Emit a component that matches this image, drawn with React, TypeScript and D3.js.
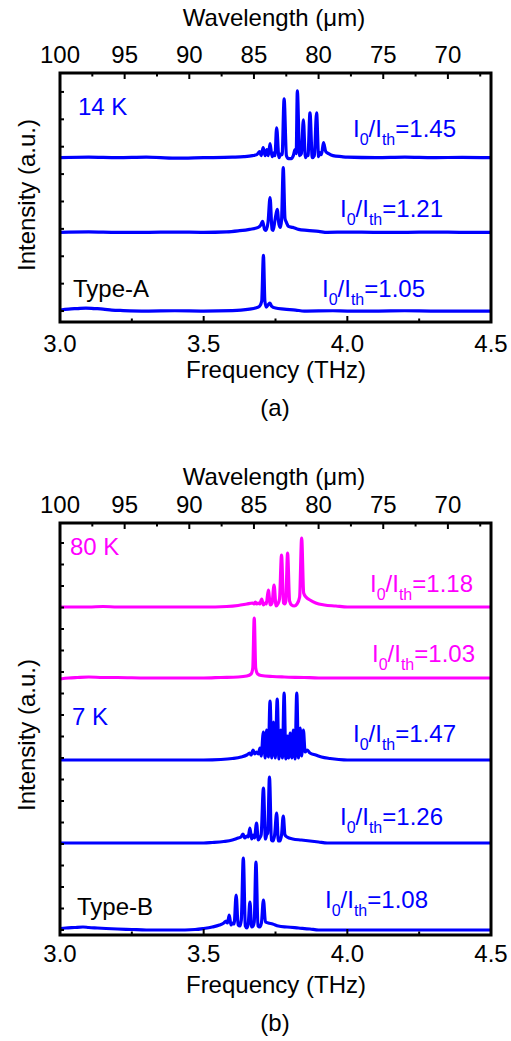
import React from 'react';
import * as d3 from 'd3';

type Pt = [number, number];

// ---- axis ticks ----
const freqTicks = [3.0, 3.5, 4.0, 4.5];
const freqMinor = [3.25, 3.75, 4.25];
const wlTicks = [100, 95, 90, 85, 80, 75, 70];
const wlMinor = [97.5, 92.5, 87.5, 82.5, 77.5, 72.5, 67.5];

// ---- panel (a): Type-A, 14 K ----
const traceA145: Pt[] = [[3.0,0],[3.1,0.5],[3.2,0],[3.3,0.5],[3.4,-0.5],[3.5,0],[3.6,0.5],[3.64,1],[3.67,2],[3.685,3],[3.695,6],[3.7,2],[3.707,10],[3.714,2],[3.72,8],[3.725,2],[3.731,14],[3.738,1],[3.745,5],[3.748,2],[3.754,30],[3.762,0],[3.77,4],[3.773,3],[3.78,59],[3.788,2],[3.795,-1],[3.805,-1],[3.812,2],[3.818,8],[3.822,4],[3.826,67],[3.834,2],[3.84,4],[3.847,38],[3.854,0],[3.86,3],[3.863,2],[3.87,45],[3.878,0],[3.885,2],[3.893,45],[3.9,1],[3.905,5],[3.91,3],[3.917,15],[3.925,6],[3.935,4],[3.95,2],[3.98,1],[4.0,0.5],[4.1,0],[4.2,0.5],[4.3,0],[4.4,0.3],[4.5,0]];
const traceA121: Pt[] = [[3.0,0],[3.1,0.5],[3.2,0],[3.3,0],[3.4,0.3],[3.5,0],[3.58,0.5],[3.62,1.5],[3.66,3],[3.69,5],[3.698,7],[3.705,11],[3.712,3],[3.716,2],[3.724,10],[3.731,35],[3.738,3],[3.742,2],[3.748,12],[3.756,23],[3.762,8],[3.767,5],[3.771,12],[3.777,65],[3.783,14],[3.788,10],[3.795,6],[3.81,5],[3.83,3],[3.86,2],[3.9,1],[3.93,0],[4.0,0.3],[4.1,0],[4.2,0],[4.3,0.3],[4.4,0],[4.5,0]];
const traceA105: Pt[] = [[3.0,1],[3.03,2],[3.06,2.5],[3.09,3],[3.12,2.5],[3.15,2],[3.18,1],[3.22,0.5],[3.3,0],[3.4,0.3],[3.5,0],[3.6,0.5],[3.63,1],[3.66,2],[3.68,3],[3.695,5],[3.702,10],[3.708,56],[3.713,10],[3.718,4],[3.726,7],[3.731,8],[3.736,5],[3.75,3],[3.78,2],[3.82,1],[3.85,0],[3.95,0.3],[4.0,0],[4.1,0],[4.2,0.3],[4.3,0],[4.4,0],[4.5,0]];
const offsetsA = [165, 90, 11];
const ratiosA = ['1.45', '1.21', '1.05'];

// ---- panel (b): Type-B, 80 K and 7 K ----
const traceB118: Pt[] = [[3.0,0],[3.1,0],[3.15,0.5],[3.2,0],[3.3,0],[3.4,0],[3.5,0],[3.58,0.5],[3.62,1.5],[3.65,3],[3.67,4],[3.675,3],[3.68,5],[3.685,3],[3.69,4],[3.695,3],[3.702,8],[3.708,2],[3.714,4],[3.718,3],[3.725,17],[3.732,2],[3.738,4],[3.745,22],[3.752,1],[3.758,3],[3.764,8],[3.771,52],[3.778,4],[3.782,3],[3.786,6],[3.792,54],[3.799,6],[3.806,2],[3.815,1],[3.825,3],[3.834,10],[3.841,69],[3.848,14],[3.856,10],[3.87,7],[3.89,4],[3.92,2],[3.96,1],[4.0,0],[4.1,0],[4.2,0],[4.3,0],[4.4,0],[4.5,0]];
const traceB103: Pt[] = [[3.0,-1],[3.03,0],[3.06,0.5],[3.1,1],[3.15,0.5],[3.2,0.5],[3.3,0],[3.4,0],[3.5,0],[3.56,0.5],[3.62,1],[3.65,2],[3.665,4],[3.671,10],[3.676,60],[3.681,10],[3.688,4],[3.7,2.5],[3.74,1.5],[3.78,1],[3.85,0.5],[3.9,0],[4.0,0],[4.2,0],[4.5,0]];
const traceB147: Pt[] = [[3.0,0],[3.1,0],[3.2,0],[3.3,0],[3.4,0],[3.5,0],[3.56,0.5],[3.6,1.5],[3.63,3],[3.65,5],[3.66,7],[3.665,5],[3.672,10],[3.678,6],[3.684,8],[3.69,6],[3.696,12],[3.7,4],[3.708,28],[3.714,2],[3.719,30],[3.725,3],[3.731,59],[3.737,2],[3.743,38],[3.749,2],[3.756,61],[3.762,1],[3.768,30],[3.774,2],[3.78,67],[3.786,1],[3.791,24],[3.796,2],[3.801,27],[3.807,2],[3.812,30],[3.818,1],[3.824,67],[3.83,2],[3.836,32],[3.841,4],[3.847,30],[3.853,8],[3.86,10],[3.87,7],[3.89,5],[3.91,3],[3.94,1.5],[3.97,0.5],[4.0,0],[4.5,0]];
const traceB126: Pt[] = [[3.0,0],[3.1,0],[3.2,0],[3.3,0],[3.4,0],[3.5,0],[3.53,0.5],[3.57,1.5],[3.6,3],[3.62,5],[3.63,6],[3.637,9],[3.643,5],[3.65,7],[3.655,6],[3.661,15],[3.667,4],[3.672,8],[3.677,5],[3.684,20],[3.69,3],[3.695,5],[3.7,8],[3.708,55],[3.715,4],[3.719,8],[3.723,10],[3.729,66],[3.736,3],[3.741,2],[3.747,8],[3.754,30],[3.76,2],[3.765,2],[3.771,8],[3.777,27],[3.783,8],[3.79,6],[3.81,4],[3.84,3],[3.87,2],[3.9,1],[3.93,0],[4.0,0],[4.5,0]];
const traceB108: Pt[] = [[3.0,1.5],[3.02,2],[3.05,2.5],[3.08,3],[3.1,2.5],[3.13,2],[3.16,1.5],[3.2,1],[3.25,0.5],[3.3,0],[3.4,0],[3.47,0.5],[3.5,1.5],[3.53,3],[3.555,5],[3.57,7],[3.578,9],[3.583,7],[3.589,15],[3.595,5],[3.6,7],[3.606,6],[3.613,35],[3.62,5],[3.626,4],[3.631,10],[3.638,72],[3.645,4],[3.65,2],[3.655,6],[3.661,28],[3.667,3],[3.672,4],[3.676,8],[3.682,68],[3.689,4],[3.695,3],[3.701,7],[3.708,30],[3.715,8],[3.725,7],[3.74,6],[3.76,4],[3.79,3],[3.83,2],[3.87,1],[3.9,0],[4.0,0],[4.5,0]];
const offsetsB = [328, 257, 175, 92, 5];
const ratiosB = ['1.18', '1.03', '1.47', '1.26', '1.08'];

const BLUE = '#0000ff';
const MAGENTA = '#ff00ff';
const FONT = '"Liberation Sans", Arial, Helvetica, sans-serif';

interface TraceSpec { data: Pt[]; offset: number; color: string; ratio: string; lx: number; ly: number; }
interface NoteSpec { text: string; x: number; y: number; color: string; }
interface PanelSpec {
  top: number; bottom: number; yMax: number; tickStep: number; tickStart: number;
  traces: TraceSpec[]; notes: NoteSpec[];
  titleY: number; topLabelY: number; botLabelY: number; xTitleY: number; tagY: number; tag: string; yTitleCenter: number;
}

const L = 60, R = 491;

function Ratio({ x, y, color, value }: { x: number; y: number; color: string; value: string }) {
  return (
    <text x={x} y={y} fill={color} fontSize={24} fontFamily={FONT}>
      <tspan>I</tspan>
      <tspan dy={8} fontSize={16}>0</tspan>
      <tspan dy={-8}>/I</tspan>
      <tspan dy={8} fontSize={16}>th</tspan>
      <tspan dy={-8}>={value}</tspan>
    </text>
  );
}

function Panel({ p, id }: { p: PanelSpec; id: string }) {
  const x = d3.scaleLinear().domain([3.0, 4.5]).range([L, R]);
  const xTop = d3.scaleLinear().domain([100, 200 / 3]).range([L, R]);
  const y = d3.scaleLinear().domain([0, p.yMax]).range([p.bottom, p.top]);
  const yTicks = d3.range(p.tickStart, p.yMax, p.tickStep);
  return (
    <g fontFamily={FONT}>
      <defs>
        <clipPath id={id}>
          <rect x={L} y={p.top} width={R - L} height={p.bottom - p.top} />
        </clipPath>
      </defs>
      <g clipPath={`url(#${id})`}>
        {p.traces.map((t, i) => {
          const line = d3.line<Pt>().x(d => x(d[0])).y(d => y(d[1] + t.offset)).curve(d3.curveMonotoneX);
          return <path key={i} d={line(t.data) || ''} fill="none" stroke={t.color} strokeWidth={3.2} strokeLinejoin="round" strokeLinecap="round" />;
        })}
      </g>
      {/* ticks */}
      {freqTicks.map(v => <line key={'fb' + v} x1={x(v)} x2={x(v)} y1={p.bottom} y2={p.bottom - 6} stroke="#000" strokeWidth={2} />)}
      {freqMinor.map(v => <line key={'fm' + v} x1={x(v)} x2={x(v)} y1={p.bottom} y2={p.bottom - 3.5} stroke="#000" strokeWidth={2} />)}
      {wlTicks.map(v => <line key={'wt' + v} x1={xTop(v)} x2={xTop(v)} y1={p.top} y2={p.top + 6} stroke="#000" strokeWidth={2} />)}
      {wlMinor.map(v => <line key={'wm' + v} x1={xTop(v)} x2={xTop(v)} y1={p.top} y2={p.top + 3.5} stroke="#000" strokeWidth={2} />)}
      {yTicks.map(v => <line key={'y' + v} x1={L} x2={L + 4} y1={y(v)} y2={y(v)} stroke="#000" strokeWidth={2} />)}
      <rect x={L} y={p.top} width={R - L} height={p.bottom - p.top} fill="none" stroke="#000" strokeWidth={3} />
      {/* tick labels */}
      {freqTicks.map(v => (
        <text key={'fl' + v} x={x(v)} y={p.botLabelY} textAnchor="middle" fontSize={24} fill="#000">{v.toFixed(1)}</text>
      ))}
      {wlTicks.map(v => (
        <text key={'wl' + v} x={xTop(v)} y={p.topLabelY} textAnchor="middle" fontSize={24} fill="#000">{v}</text>
      ))}
      <text x={274} y={p.titleY} textAnchor="middle" fontSize={24} fill="#000">Wavelength (μm)</text>
      <text x={276} y={p.xTitleY} textAnchor="middle" fontSize={24} fill="#000">Frequency (THz)</text>
      <text x={275} y={p.tagY} textAnchor="middle" fontSize={24} fill="#000">{p.tag}</text>
      <text transform={`translate(35,${p.yTitleCenter}) rotate(-90)`} textAnchor="middle" fontSize={24} fill="#000">Intensity (a.u.)</text>
      {p.traces.map((t, i) => <Ratio key={'r' + i} x={t.lx} y={t.ly} color={t.color} value={t.ratio} />)}
      {p.notes.map((n, i) => <text key={'n' + i} x={n.x} y={n.y} fontSize={24} fill={n.color}>{n.text}</text>)}
    </g>
  );
}

export default function App() {
  const panelA: PanelSpec = {
    top: 73, bottom: 322, yMax: 250, tickStep: 27.5, tickStart: 11,
    traces: [
      { data: traceA145, offset: offsetsA[0], color: BLUE, ratio: ratiosA[0], lx: 353, ly: 137 },
      { data: traceA121, offset: offsetsA[1], color: BLUE, ratio: ratiosA[1], lx: 340, ly: 217 },
      { data: traceA105, offset: offsetsA[2], color: BLUE, ratio: ratiosA[2], lx: 322, ly: 297 },
    ],
    notes: [
      { text: '14 K', x: 78, y: 115, color: BLUE },
      { text: 'Type-A', x: 73, y: 297, color: '#000' },
    ],
    titleY: 26, topLabelY: 63, botLabelY: 352, xTitleY: 378, tagY: 416, tag: '(a)', yTitleCenter: 195,
  };
  const panelB: PanelSpec = {
    top: 523, bottom: 935, yMax: 412, tickStep: 21.5, tickStart: 5,
    traces: [
      { data: traceB118, offset: offsetsB[0], color: MAGENTA, ratio: ratiosB[0], lx: 370, ly: 592 },
      { data: traceB103, offset: offsetsB[1], color: MAGENTA, ratio: ratiosB[1], lx: 372, ly: 662 },
      { data: traceB147, offset: offsetsB[2], color: BLUE, ratio: ratiosB[2], lx: 353, ly: 742 },
      { data: traceB126, offset: offsetsB[3], color: BLUE, ratio: ratiosB[3], lx: 340, ly: 825 },
      { data: traceB108, offset: offsetsB[4], color: BLUE, ratio: ratiosB[4], lx: 325, ly: 908 },
    ],
    notes: [
      { text: '80 K', x: 70, y: 555, color: MAGENTA },
      { text: '7 K', x: 72, y: 725, color: BLUE },
      { text: 'Type-B', x: 77, y: 915, color: '#000' },
    ],
    titleY: 485, topLabelY: 513, botLabelY: 962, xTitleY: 993, tagY: 1031, tag: '(b)', yTitleCenter: 735,
  };
  return (
    <svg width={511} height={1041} style={{ position: 'absolute', left: 0, top: 0, background: '#fff' }}>
      <rect x={0} y={0} width={511} height={1041} fill="#fff" />
      <Panel p={panelA} id="clipA" />
      <Panel p={panelB} id="clipB" />
    </svg>
  );
}
